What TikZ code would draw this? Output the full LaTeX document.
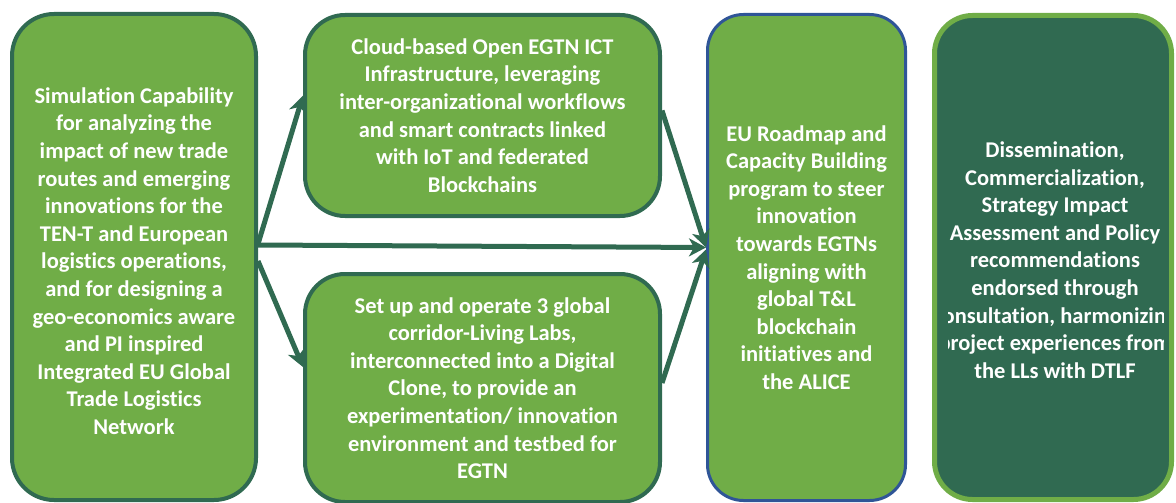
\documentclass[tikz,border=0pt]{standalone}
\usepackage{fontspec}
\setmainfont{Carlito}[Ligatures=NoCommon]
\usepackage{xcolor}
\usetikzlibrary{arrows.meta}
\definecolor{boxgreen}{HTML}{70AD47}
\definecolor{darkgreen}{HTML}{306A51}
\definecolor{roadblue}{HTML}{2F5597}
\tikzset{
  box/.style={draw=darkgreen, line width=4pt, fill=boxgreen, text=white,
    font=\bfseries\fontsize{22.5}{27.6}\selectfont, align=center, inner sep=0pt},
  link/.style={draw=darkgreen, line width=5pt,
    -{Stealth[length=17pt,width=18pt,inset=5pt]}},
}

\begin{document}
\begin{tikzpicture}[x=1pt,y=-1pt]
	\useasboundingbox (0,0) rectangle (1176,503);

	\node[box, rounded corners=42pt, minimum width=244pt, minimum height=486pt] (sim) at (134,257)
	{\rule{0pt}{24pt}Simulation Capability\\for analyzing the\\impact of new trade\\routes and emerging\\innovations for the\\TEN-T and European\\logistics operations,\\and for designing a\\geo-economics aware\\and PI inspired\\Integrated EU Global\\Trade Logistics\\Network};
	\node[box, rounded corners=40pt, minimum width=355pt, minimum height=201pt] (cloud) at (482.5,115.5)
	{Cloud-based Open EGTN ICT\\Infrastructure, leveraging\\inter-organizational workflows\\and smart contracts linked\\with IoT and federated\\Blockchains};
	\node[box, rounded corners=40pt, minimum width=355pt, minimum height=228pt] (lab) at (482.5,388)
	{Set up and operate 3 global\\corridor-Living Labs,\\interconnected into a Digital\\Clone, to provide an\\experimentation/ innovation\\environment and testbed for\\EGTN};
	\node[box, draw=roadblue, line width=3pt, rounded corners=36pt, minimum width=198pt, minimum height=486pt] (road) at (806.5,257.5)
	{EU Roadmap and\\Capacity Building\\program to steer\\innovation\\towards EGTNs\\aligning with\\global T\&L\\blockchain\\initiatives and\\the ALICE};
	\node[box, draw=boxgreen, fill=darkgreen, line width=5pt, rounded corners=38pt, minimum width=237pt, minimum height=484pt] (diss) at (1053,257.5) {};
	\begin{scope}
	\clip (948,0) rectangle (1163,503);
	\node[box, draw=none, fill=none] (disstext) at (1055,260)
	{Dissemination,\\Commercialization,\\Strategy Impact\\Assessment and Policy\\recommendations\\endorsed through\\consultation, harmonizing\\project experiences from\\the LLs with DTLF};
	\end{scope}

	\draw[link] ([yshift=13pt]sim.east) -- ([yshift=20pt]cloud.west);
	\draw[link] ([yshift=12pt]sim.east) -- ([yshift=10pt]road.west);
	\draw[link] ([yshift=-4pt]sim.east) -- ([yshift=21pt]lab.west);
	\draw[link] ([yshift=5pt]cloud.east) -- ([yshift=10pt]road.west);
	\draw[link] ([yshift=5pt]lab.east) -- ([yshift=8pt]road.west);
\end{tikzpicture}
\end{document}
